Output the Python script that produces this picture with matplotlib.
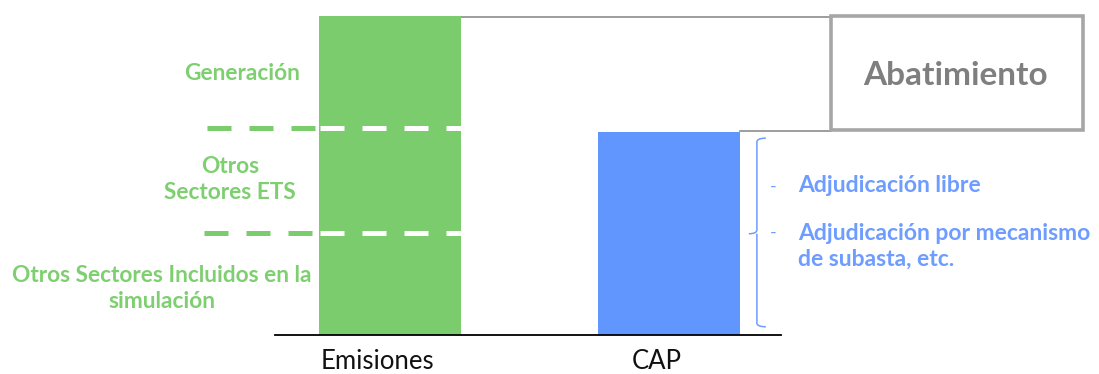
import matplotlib
matplotlib.use("Agg")
import matplotlib.pyplot as plt
from matplotlib.patches import Rectangle, PathPatch
from matplotlib.path import Path

# --- data -------------------------------------------------------------
categories = ["Emisiones", "CAP"]
emission_segments = [32, 33, 35]          # bottom -> top
segment_labels = ["Otros Sectores Incluidos en la\nsimulación",
                  "Otros\nSectores ETS",
                  "Generación"]
cap_value = 63.5
cap_items = ["Adjudicación libre",
             "Adjudicación por mecanismo\nde subasta, etc."]
gap_label = "Abatimiento"

GREEN = "#7acc6c"
GREEN_TXT = "#7dcf70"
BLUE = "#6196ff"
BLUE_TXT = "#6e9cff"
GRAY = "#a6a6a6"
GRAY_TXT = "#7f7f7f"
FONT = "Lato"

fig = plt.figure(figsize=(10.99, 3.74), dpi=100)
ax = fig.add_axes([0, 0, 1, 1])
ax.set_xlim(-1.395, 2.537)
ax.set_ylim(-12.2, 105.0)
ax.axis("off")

W = 0.508
xpos = [0, 1]
total = sum(emission_segments)

# stacked emissions bar (single colour)
bottom = 0
for seg in emission_segments:
    ax.bar(xpos[0], seg, width=W, bottom=bottom, color=GREEN,
           edgecolor="none", zorder=2)
    bottom += seg
ax.bar(xpos[1], cap_value, width=W, color=BLUE, edgecolor="none", zorder=2)

# baseline
ax.plot([-0.411, 1.399], [0, 0], color="black", lw=1.3, zorder=3)

# category labels
for x, lab in zip(xpos, categories):
    ax.text(x - 0.044, -10.7, lab, ha="center", va="baseline", fontsize=18.5,
            family=FONT, color="#111111")

# dashed separators between segments: green outside the bar, white on it
levels = [sum(emission_segments[:i + 1]) for i in range(len(emission_segments) - 1)]
dash_starts = [-0.665, -0.655]
for x0, lvl in zip(dash_starts, levels):
    ax.plot([x0, -W / 2], [lvl, lvl], color=GREEN, lw=3.6,
            dashes=(4.8, 3.6), dash_capstyle="butt", zorder=3)
    ax.plot([-W / 2 + 0.004, W / 2], [lvl, lvl], color="white", lw=3.6,
            dashes=(4.8, 3.6), dash_capstyle="butt", zorder=4)

# segment labels, left of the emissions bar (y = baseline of the last line)
label_pos = [(-0.816, 8.5), (-0.572, 42.6), (-0.53, 79.9)]
for (lx, ly), lab in zip(label_pos, segment_labels):
    ax.text(lx, ly, lab, ha="center", va="baseline", fontsize=16.3,
            family=FONT, fontweight="bold", color=GREEN_TXT, linespacing=1.28)

# grey connectors to the abatement box
box_x0 = (831 - 390) / 279.5
box_x1 = (1083 - 390) / 279.5
ax.plot([W / 2, box_x0], [total - 0.3, total - 0.3], color="#8c8c8c", lw=1.2, zorder=1)
ax.plot([1 + W / 2, box_x0], [cap_value + 0.4, cap_value + 0.4], color="#8c8c8c",
        lw=1.2, zorder=1)
ax.add_patch(Rectangle((box_x0, cap_value + 0.9), box_x1 - box_x0,
                       total - cap_value - 0.9, facecolor="white",
                       edgecolor=GRAY, lw=2.6, zorder=3))
ax.text((box_x0 + box_x1) / 2 - 0.006, 78.4, gap_label,
        ha="center", va="baseline", fontsize=24, family=FONT,
        fontweight="bold", color=GRAY_TXT, zorder=4)

# curly brace next to the CAP bar
bx = 1.313
tip = 0.032
top_y = cap_value - 1.8
bot_y = 2.6
mid_y = cap_value / 2
c = 1.2
verts = [(bx + tip, top_y), (bx, top_y), (bx, top_y - c),
         (bx, mid_y + c), (bx, mid_y), (bx - tip * 0.9, mid_y),
         (bx, mid_y), (bx, mid_y - c),
         (bx, bot_y + c), (bx, bot_y), (bx + tip, bot_y)]
codes = [Path.MOVETO, Path.CURVE3, Path.CURVE3,
         Path.LINETO, Path.CURVE3, Path.CURVE3,
         Path.MOVETO, Path.LINETO,
         Path.LINETO, Path.CURVE3, Path.CURVE3]
ax.add_patch(PathPatch(Path(verts, codes), facecolor="none",
                       edgecolor=BLUE_TXT, lw=1.1, zorder=3))

# bullet list to the right of the brace
bullet_y = [44.8, 30.4]
item_y = [44.8, 21.6]      # baseline of each item's last line
for by, iy, item in zip(bullet_y, item_y, cap_items):
    ax.text(1.36, by, "-", ha="left", va="baseline", fontsize=13,
            family=FONT, color=BLUE_TXT)
    ax.text(1.46, iy, item, ha="left", va="baseline",
            fontsize=16.5, family=FONT, fontweight="bold", color=BLUE_TXT,
            linespacing=1.28)

fig.savefig("out.png", dpi=100, facecolor="white")
